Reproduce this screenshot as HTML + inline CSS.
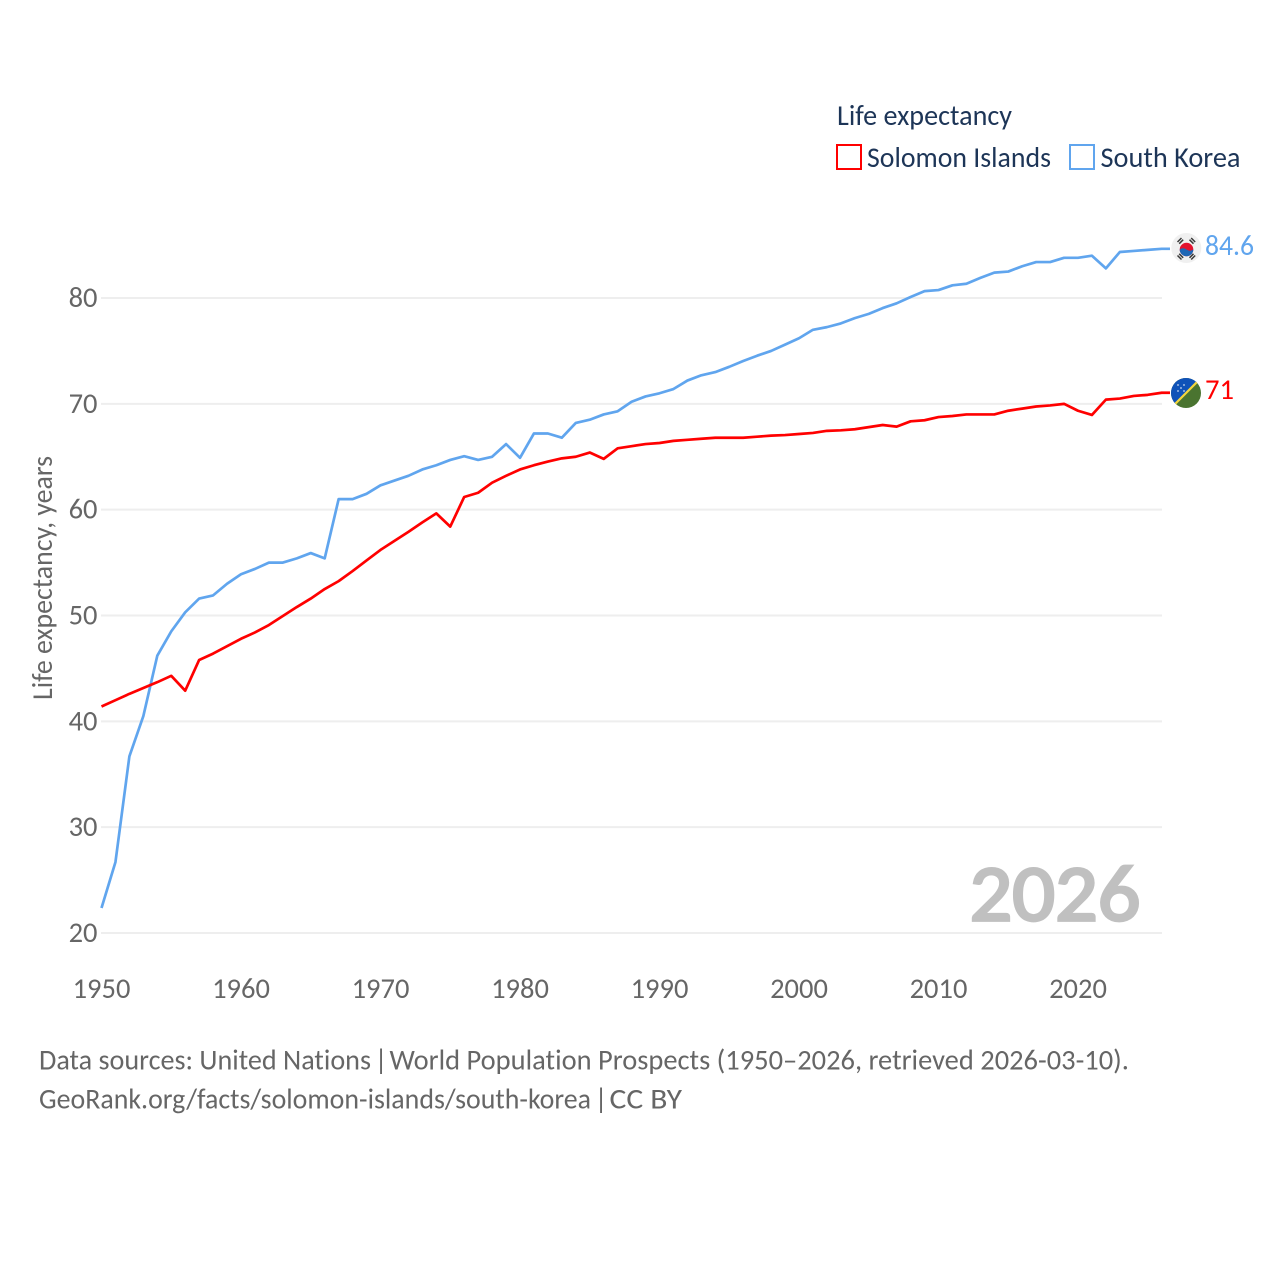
<!DOCTYPE html>
<html lang="en">
<head>
<meta charset="utf-8">
<title>Life expectancy: Solomon Islands and South Korea</title>
<style>
html,body{margin:0;padding:0;background:#fff;}
svg{display:block;font-family:"Carlito","Liberation Sans",sans-serif;font-variant-ligatures:none;}
</style>
</head>
<body>
<svg id="chart" xmlns="http://www.w3.org/2000/svg" width="1280" height="1280" viewBox="0 0 1280 1280">
  <defs>
    <clipPath id="clip-kr"><circle cx="1186.300" cy="248" r="15"/></clipPath>
    <clipPath id="clip-sb"><circle cx="1186" cy="393" r="15"/></clipPath>
  </defs>
  <rect width="1280" height="1280" fill="#fff"/>
  <g id="grid"></g>
  <g id="yticks" font-size="28.5" fill="#666"></g>
  <g id="xticks" font-size="28.5" fill="#666"></g>
  <text transform="translate(52,700) rotate(-90)" font-size="28.5" fill="#666" textLength="244" lengthAdjust="spacingAndGlyphs">Life expectancy, years</text>
  <text x="969.500" y="920.500" font-size="80" stroke="#c0c0c0" stroke-width="2.800" fill="#c0c0c0" textLength="171" lengthAdjust="spacingAndGlyphs">2026</text>
  <g id="series"></g>

  <g clip-path="url(#clip-kr)">
    <rect x="1171" y="233" width="31" height="30" fill="#f0f0f0"/>
    <circle cx="1186.500" cy="249.500" r="6.800" fill="#e3112e"/>
    <path d="M1179.700 249.500a6.800 6.800 0 0 0 13.600 0q-3.400 2.400-6.800 0t-6.800 0z" fill="#1f67b5"/>
    <g stroke="#3a3a3a" stroke-width="1.500" fill="none">
      <path d="M1177.500 242l4-4M1179.200 243.700l4-4"/>
      <path d="M1189.500 239.700l4 4M1191.200 238l4 4"/>
      <path d="M1177.500 255.500l4 4M1179.200 253.800l4 4"/>
      <path d="M1189.500 257.800l4-4M1191.200 259.500l4-4"/>
    </g>
  </g>
  <g clip-path="url(#clip-sb)">
    <rect x="1171" y="378" width="30" height="30" fill="#4a7430"/>
    <path d="M1171 378h30l-30 30z" fill="#0f52b8"/>
    <path d="M1201 378l-30 30" stroke="#f5d63d" stroke-width="2.200"/>
    <g fill="#c9d8ef">
      <circle cx="1178" cy="385" r=".9"/><circle cx="1184" cy="385" r=".9"/>
      <circle cx="1181" cy="388" r=".9"/><circle cx="1178" cy="391" r=".9"/><circle cx="1184" cy="391" r=".9"/>
    </g>
  </g>

  <text x="1205" y="255" font-size="28.5" fill="#60a5ee" textLength="49" lengthAdjust="spacingAndGlyphs">84.6</text>
  <text x="1205" y="399" font-size="28.5" fill="#ff0000" textLength="29" lengthAdjust="spacingAndGlyphs">71</text>

  <g font-size="28.5" fill="#1d3557">
    <text x="837" y="125" textLength="175" lengthAdjust="spacingAndGlyphs">Life expectancy</text>
    <g>
      <rect x="837" y="145" width="24" height="24" fill="#fff" stroke="#ff0000" stroke-width="2"/>
      <text x="867" y="167" textLength="184" lengthAdjust="spacingAndGlyphs">Solomon Islands</text>
    </g>
    <g>
      <rect x="1070" y="145" width="24" height="24" fill="#fff" stroke="#60a5ee" stroke-width="2"/>
      <text x="1100.500" y="167" textLength="140" lengthAdjust="spacingAndGlyphs">South Korea</text>
    </g>
  </g>

  <g font-size="28.5" fill="#666">
    <text y="1069.700"><tspan x="39" textLength="332" lengthAdjust="spacingAndGlyphs">Data sources: United Nations</tspan> <tspan x="374.500">|</tspan> <tspan x="389.500" textLength="739.500" lengthAdjust="spacingAndGlyphs">World Population Prospects (1950–2026, retrieved 2026-03-10).</tspan></text>
    <text y="1108.700"><tspan x="39" textLength="552" lengthAdjust="spacingAndGlyphs">GeoRank.org/facts/solomon-islands/south-korea</tspan> <tspan x="594.500">|</tspan> <tspan x="609.500" textLength="72.500" lengthAdjust="spacingAndGlyphs">CC BY</tspan></text>
  </g>
</svg>
<script>
const startYear = 1950;
const yTickValues = [20, 30, 40, 50, 60, 70, 80];
const xTickValues = [1950, 1960, 1970, 1980, 1990, 2000, 2010, 2020];
const solomonIslands = [41.4,42.0,42.6,43.15,43.7,44.3,42.9,45.8,46.4,47.1,47.8,48.4,49.1,49.95,50.8,51.6,52.5,53.25,54.2,55.2,56.2,57.05,57.9,58.8,59.65,58.4,61.2,61.6,62.55,63.2,63.8,64.2,64.55,64.85,65.0,65.4,64.8,65.8,66.0,66.2,66.3,66.5,66.6,66.7,66.8,66.8,66.8,66.9,67.0,67.05,67.15,67.25,67.45,67.5,67.6,67.8,68.0,67.85,68.35,68.45,68.75,68.85,69.0,69.0,69.0,69.35,69.55,69.75,69.85,70.0,69.35,68.95,70.4,70.5,70.75,70.85,71.05];
const southKorea = [22.36,26.7,36.7,40.5,46.2,48.5,50.3,51.6,51.9,53.0,53.9,54.4,55.0,55.0,55.4,55.9,55.4,61.0,61.0,61.5,62.3,62.75,63.2,63.8,64.2,64.7,65.05,64.7,65.0,66.2,64.9,67.2,67.2,66.8,68.2,68.5,69.0,69.3,70.2,70.7,71.0,71.4,72.2,72.7,73.0,73.5,74.05,74.55,75.0,75.6,76.2,77.0,77.25,77.6,78.1,78.5,79.05,79.5,80.1,80.65,80.75,81.2,81.35,81.9,82.4,82.5,83.0,83.4,83.4,83.8,83.8,84.0,82.8,84.35,84.45,84.55,84.65];

const SVG_NS = 'http://www.w3.org/2000/svg';
function xScale(year) { return 101.5 + (year - 1950) * 13.95; }
function yScale(value) { return 933 - (value - 20) * 10.583; }

const grid = document.getElementById('grid');
const yticks = document.getElementById('yticks');
yTickValues.forEach(function (v) {
  const line = document.createElementNS(SVG_NS, 'line');
  
  
  line.setAttribute('x1', 101);
  line.setAttribute('x2', 1162);
  line.setAttribute('y1', yScale(v));
  line.setAttribute('y2', yScale(v));
  line.setAttribute('stroke', '#eeeeee');
  line.setAttribute('stroke-width', 2);
  grid.appendChild(line);
  const t = document.createElementNS(SVG_NS, 'text');
  
  
  t.setAttribute('x', 97.5);
  t.setAttribute('y', yScale(v) + 9);
  t.setAttribute('text-anchor', 'end');
  t.textContent = v;
  yticks.appendChild(t);
});

const xticks = document.getElementById('xticks');
xTickValues.forEach(function (v) {
  const t = document.createElementNS(SVG_NS, 'text');
  
  
  t.setAttribute('x', xScale(v));
  t.setAttribute('y', 998);
  t.setAttribute('text-anchor', 'middle');
  t.textContent = v;
  xticks.appendChild(t);
});

const seriesGroup = document.getElementById('series');
function drawSeries(values, color) {
  const d = values.map(function (v, i) {
    return (i ? 'L' : 'M') + xScale(startYear + i).toFixed(2) + ' ' + yScale(v).toFixed(2);
  }).join('') + 'L1170 ' + yScale(values[values.length - 1]).toFixed(2);
  const p = document.createElementNS(SVG_NS, 'path');
  
  
  p.setAttribute('d', d);
  p.setAttribute('fill', 'none');
  p.setAttribute('stroke', color);
  p.setAttribute('stroke-width', 2.7);
  p.setAttribute('stroke-linejoin', 'round');
  seriesGroup.appendChild(p);
}
drawSeries(southKorea, '#60a5ee');
drawSeries(solomonIslands, '#ff0000');
</script>
</body>
</html>
